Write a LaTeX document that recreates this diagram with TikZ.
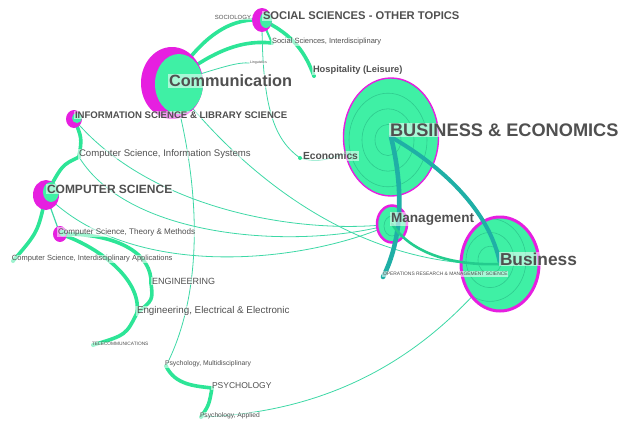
\documentclass[tikz,border=0pt]{standalone}
\usepackage{fontspec}
\setmainfont{Liberation Sans}
\definecolor{grn}{HTML}{3FF0A5}
\definecolor{egrn}{HTML}{2DE597}
\definecolor{dgrn}{HTML}{24CC8E}
\definecolor{thn}{HTML}{3ED8A6}
\definecolor{tealE}{HTML}{1FAFA6}
\definecolor{mag}{HTML}{E61FE0}
\definecolor{ringc}{HTML}{2FCB8F}
\definecolor{txt}{HTML}{505050}
\tikzset{
  lbl/.style={text=txt, fill=white, fill opacity=0.55, text opacity=1, inner sep=0.8pt, anchor=west},
  lblb/.style={lbl, font=\bfseries\fontsize{#1}{#1}\selectfont},
  lblr/.style={lbl, font=\fontsize{#1}{#1}\selectfont},
  tk/.style={draw=egrn, line width=3.6pt, line cap=round},
  md/.style={draw=egrn, line width=2pt, line cap=round},
  tn/.style={draw=thn, line width=0.8pt},
  tl/.style={draw=tealE, line width=4pt, line cap=round},
  leaf/.style={circle, fill=egrn, inner sep=0pt, minimum size=4pt},
  ring/.style={draw=ringc, line width=0.6pt}
}
\begin{document}
\begin{tikzpicture}[x=1pt,y=-1pt]
\useasboundingbox (0,0) rectangle (629,431);
% node centres
\coordinate (ssot) at (262,20);
\coordinate (ssi) at (272,43);
\coordinate (ling) at (250,63);
\coordinate (hosp) at (314,76);
\coordinate (comm) at (172,83);
\coordinate (isls) at (74,119);
\coordinate (csis) at (79,157);
\coordinate (econ) at (300,158);
\coordinate (be) at (391,137);
\coordinate (cs) at (46,195);
\coordinate (mgmt) at (392,224);
\coordinate (cstm) at (60,234);
\coordinate (bus) at (500,264);
\coordinate (csia) at (13,261);
\coordinate (orms) at (383,277);
\coordinate (eng) at (151,283);
\coordinate (eee) at (137,313);
\coordinate (tel) at (93,345);
\coordinate (psm) at (166,366);
\coordinate (psy) at (212,388);
\coordinate (psa) at (201,417);

% thin edges
\draw[tn] (comm) .. controls (225,66) and (238,62) .. (ling);
\draw[tn] (ssot) .. controls (262,110) and (275,140) .. (econ);
\draw[tn] (econ) .. controls (320,163) .. (be);
\draw[tn] (comm) .. controls (205,200) and (200,300) .. (psm);
\draw[tn] (comm) .. controls (245,178) and (360,268) .. (bus);
\draw[tn] (isls) .. controls (150,210) and (300,235) .. (mgmt);
\draw[tn] (csis) .. controls (130,240) and (300,250) .. (mgmt);
\draw[tn] (cs) .. controls (130,280) and (300,265) .. (mgmt);
\draw[tn] (psa) .. controls (350,412) and (440,340) .. (bus);
\draw[tn, line width=1.2pt] (cs) -- (cstm);

% thick green edges
\draw[tk] (comm) .. controls (205,30) and (235,18) .. (ssot);
\draw[tk] (comm) .. controls (215,48) and (245,40) .. (ssi);
\draw[tk] (ssot) .. controls (295,35) and (306,55) .. (hosp);
\draw[md] (ssot) -- (ssi);
\draw[tk] (isls) .. controls (82,138) .. (csis);
\draw[tk] (csis) .. controls (62,165) .. (cs);
\draw[tk] (cs) .. controls (38,232) .. (csia);
\draw[tk] (cstm) .. controls (120,233) and (152,255) .. (eng);
\draw[tk] (cstm) .. controls (95,245) and (142,278) .. (eee);
\draw[tk] (eng) .. controls (153,300) .. (eee);
\draw[tk] (eee) .. controls (126,335) .. (tel);
\draw[tk] (psm) .. controls (175,385) and (195,386) .. (psy);
\draw[tk] (psy) .. controls (209,405) .. (psa);

% big nodes
\fill[mag] (comm) ellipse [x radius=31, y radius=36];
\fill[grn] (179,84) ellipse [x radius=24, y radius=30];
\begin{scope}
\clip (391,137) ellipse [x radius=47.5, y radius=59];
\fill[grn] (391,137) ellipse [x radius=47.5, y radius=59];
\foreach \r in {13,26,39,52} \draw[ring] (388,140) ellipse [x radius=\r, y radius=1.2*\r];
\end{scope}
\draw[mag, line width=1.4pt] (391,137) ellipse [x radius=47.5, y radius=59];
\begin{scope}
\clip (bus) ellipse [x radius=39, y radius=47];
\fill[grn] (bus) ellipse [x radius=39, y radius=47];
\foreach \r in {12,24,36} \draw[ring] (490,260) ellipse [x radius=\r, y radius=1.15*\r];
\end{scope}
\draw[mag, line width=3pt] (bus) ellipse [x radius=39, y radius=47];
\fill[grn] (mgmt) ellipse [x radius=15, y radius=18.5];
\draw[mag, line width=2.5pt] (mgmt) ellipse [x radius=15, y radius=18.5];
\draw[ring] (392,226) ellipse [x radius=8, y radius=10];
\fill[mag] (isls) ellipse [x radius=8, y radius=9];
\fill[grn] (77,118) circle (5);
\fill[mag] (cs) ellipse [x radius=13, y radius=15];
\fill[grn] (51,192) ellipse [x radius=8, y radius=10];
\fill[mag] (ssot) ellipse [x radius=10, y radius=12];
\fill[grn] (266,20) ellipse [x radius=6, y radius=8];
\fill[mag] (cstm) ellipse [x radius=7, y radius=8];
\fill[grn] (63,233) circle (3.5);

% teal edges and top edges
\draw[tl] (be) .. controls (440,165) and (490,210) .. (bus);
\draw[tl, line width=4.6pt] (be) .. controls (404,190) and (402,240) .. (orms);
\draw[md, draw=dgrn, line width=2.6pt] (mgmt) .. controls (410,252) and (450,266) .. (bus);

% leaf dots
\foreach \p in {econ,hosp,ssi,eng,eee,tel,psm,psy,psa,csia,csis} \node[leaf] at (\p) {};
\node[leaf, minimum size=3pt, fill=tealE] at (orms) {};

% labels
\node[lblb=11.2] (tssot) at (262,16) {SOCIAL SCIENCES - OTHER TOPICS};
\node[lblr=6, anchor=east] (tsoc) at (252,17) {SOCIOLOGY};
\node[lblr=7.5] (tssi) at (271,42) {Social Sciences, Interdisciplinary};
\node[lblr=3.6] (tling) at (249,63) {Linguistics};
\node[lblb=9.3] (thosp) at (312,70) {Hospitality (Leisure)};
\node[lblb=16.3] (tcomm) at (168,81) {Communication};
\node[lblb=9.6] (tisls) at (74,115) {INFORMATION SCIENCE \& LIBRARY SCIENCE};
\node[lblb=18.2] (tbe) at (389,130) {BUSINESS \& ECONOMICS};
\node[lblr=9.6] (tcsis) at (78,154) {Computer Science, Information Systems};
\node[lblb=10.3] (tecon) at (302,156) {Economics};
\node[lblb=12] (tcs) at (46,189) {COMPUTER SCIENCE};
\node[lblb=13.6] (tmgmt) at (390,219) {Management};
\node[lblr=8.1] (tcstm) at (57,232) {Computer Science, Theory \& Methods};
\node[lblb=17.3] (tbus) at (499,259) {Business};
\node[lblr=7.5] (tcsia) at (11,259) {Computer Science, Interdisciplinary Applications};
\node[lblr=4.9] (torms) at (382,274) {OPERATIONS RESEARCH \& MANAGEMENT SCIENCE};
\node[lblr=9] (teng) at (151,281) {ENGINEERING};
\node[lblr=9.8] (teee) at (136,311) {Engineering, Electrical \& Electronic};
\node[lblr=4.8] (ttel) at (91,344) {TELECOMMUNICATIONS};
\node[lblr=6.8] (tpsm) at (164,364) {Psychology, Multidisciplinary};
\node[lblr=8.5] (tpsy) at (211,386) {PSYCHOLOGY};
\node[lblr=6.7] (tpsa) at (199,416) {Psychology, Applied};
\end{tikzpicture}
\end{document}
